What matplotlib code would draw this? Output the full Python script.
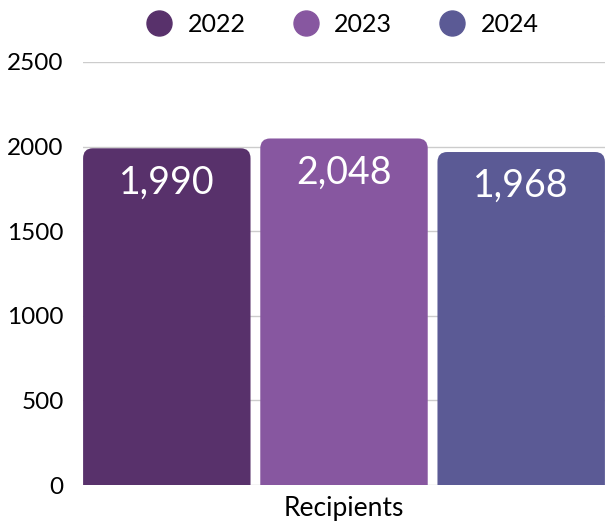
import matplotlib
matplotlib.use("Agg")
import matplotlib.pyplot as plt
from matplotlib.patches import FancyBboxPatch
from matplotlib.lines import Line2D

# data
years = ["2022", "2023", "2024"]
recipients = [1990, 2048, 1968]
value_labels = ["1,990", "2,048", "1,968"]
category = "Recipients"
colors = ["#58316B", "#8757A0", "#5B5A95"]
yticks = [0, 500, 1000, 1500, 2000, 2500]

plt.rcParams['font.family'] = ['Lato', 'DejaVu Sans']

fig = plt.figure(figsize=(6.05, 5.25), dpi=100)
ax = fig.add_axes([83 / 605, 1 - 485 / 525, 1 - 83 / 605, (485 - 62) / 525])

width = 0.945
xs = list(range(len(years)))
radius_x = 0.055          # corner radius in x data units (~10px)
aspect = 59 / radius_x    # y units per x unit for the same pixel radius

for x, v, c in zip(xs, recipients, colors):
	# rounded box that starts below the axis, so the bottom is clipped square
	box = FancyBboxPatch((x - width / 2, -300), width, v + 300,
		boxstyle=f"round,pad=0,rounding_size={radius_x}",
		mutation_aspect=aspect, facecolor=c, edgecolor="none", zorder=2)
	ax.add_patch(box)

for x, v, lab in zip(xs, recipients, value_labels):
	ax.annotate(lab, (x, v), xytext=(0, -24.5), textcoords="offset points",
		ha="center", va="center", color="white", fontsize=27, zorder=3)

ax.set_xlim(-0.473, 2.473)
ax.set_ylim(0, 2500)
ax.set_yticks(yticks)
ax.set_yticklabels([str(t) for t in yticks], fontsize=17.5)
ax.set_xticks([1])
ax.set_xticklabels([category], fontsize=19)
ax.tick_params(axis="both", length=0)
ax.tick_params(axis="y", pad=14)
ax.tick_params(axis="x", pad=8)
ax.grid(axis="y", color="#cccccc", linewidth=1, zorder=0)
ax.set_axisbelow(True)
for s in ax.spines.values():
	s.set_visible(False)

handles = [Line2D([], [], marker="o", linestyle="none", markersize=18,
	markerfacecolor=c, markeredgecolor=c) for c in colors]
fig.legend(handles, years, loc="upper center", bbox_to_anchor=(0.556, 1.018), ncol=3,
	frameon=False, fontsize=18, handletextpad=0.15, columnspacing=1.4)

fig.savefig("out.png", dpi=100)
